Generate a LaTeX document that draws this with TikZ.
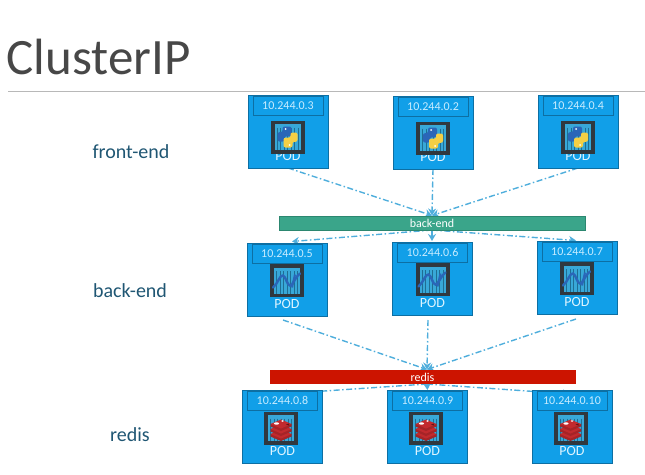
\documentclass[tikz,border=0pt]{standalone}
\usepackage{fontspec}
\setmainfont{Carlito}
\usetikzlibrary{arrows.meta,backgrounds}
\definecolor{podblue}{HTML}{119FE8}
\definecolor{podedge}{HTML}{0D6FA3}
\definecolor{iptext}{HTML}{C8ECFF}
\definecolor{linkblue}{HTML}{4FAEDC}
\definecolor{framedark}{HTML}{30383F}
\definecolor{stripe}{HTML}{38A8D8}
\definecolor{stripeline}{HTML}{1F6E93}
\definecolor{labelblue}{HTML}{1F5673}
\definecolor{pyblue}{HTML}{2A66B8}
\definecolor{pyyellow}{HTML}{F4CF45}
\definecolor{rediscol}{HTML}{C22A2E}
\definecolor{greenbar}{HTML}{3AA58A}
\definecolor{greenedge}{HTML}{2C8770}
\definecolor{redbar}{HTML}{CC1400}
\tikzset{
  podshape/.style={draw=podedge,line width=0.9pt,fill=podblue,minimum width=80pt,minimum height=73pt,anchor=north west,inner sep=0pt,outer sep=0pt},
  ipshape/.style={draw=podedge,line width=0.8pt,fill=podblue,minimum width=70pt,minimum height=19pt,text=iptext,font=\fontsize{12}{12}\selectfont,inner sep=0pt},
  podtext/.style={text=iptext!60!white,font=\fontsize{14}{14}\selectfont,inner sep=0pt},
  iconframe/.style={fill=framedark,minimum width=34pt,minimum height=33pt,inner sep=0pt},
  barshape/.style={minimum height=14pt,minimum width=306pt,inner sep=0pt,text=white,font=\fontsize{12}{12}\selectfont},
  tierlabel/.style={text=labelblue,font=\fontsize{20}{20}\selectfont,inner sep=0pt},
  link/.style={draw=linkblue,line width=1.4pt,dash pattern=on 6pt off 2.5pt on 1.5pt off 2.5pt,-{Stealth[length=7pt,width=8pt]}}
}
\newcommand{\iconbase}{%
  \fill[stripe] (-13,-13) rectangle (13,13);
  \foreach \sx in {-10.5,-7,...,11} {\draw[stripeline,line width=0.6pt] (\sx,-9.5) -- (\sx,13);}
}
\newcommand{\iconpy}{%
  \iconbase
  \foreach \rot/\col in {0/pyblue,180/pyyellow} {
    \begin{scope}[rotate=\rot]
      \fill[\col,rounded corners=2pt] (-5,-10.5) -- (4,-10.5) -- (4,-0.7) -- (-3,-0.7) -- (-3,4.5) -- (-10,4.5) -- (-10,-4.8) -- (-5,-4.8) -- cycle;
      \fill[white] (-2,-8) circle (1);
    \end{scope}
  }
}
\newcommand{\icondotnet}{%
  \iconbase
  \draw[pyblue,line width=2.4pt,line cap=round] (-14,7) .. controls (-9,3) and (-7,-6) .. (-4,-5) .. controls (-1,-4) and (0,5) .. (3,5) .. controls (6,5) and (7,-2) .. (13,-7);
  \draw[pyblue,line width=2pt] (5,7) -- (8,-6);
}
\newcommand{\iconredis}{%
  \iconbase
  \foreach \ly in {6,1,-4} {
    \fill[rediscol!85!black] (-10.5,\ly) -- (-10.5,\ly+2.5) -- (0,\ly+7) -- (10.5,\ly+2.5) -- (10.5,\ly) -- cycle;
    \fill[rediscol] (-10.5,\ly) -- (0,\ly-4.5) -- (10.5,\ly) -- (0,\ly+4.5) -- cycle;
  }
  \fill[white] (-4.5,-4.5) ellipse (2.6 and 1.2);
  \fill[white] (1.5,-7) ellipse (1.3 and 0.8);
  \fill[rediscol!50!black] (5,-3.5) -- (8,-4.5) -- (8,-2.5) -- cycle;
}
% name, x, y, address, icon macro, icon dx, icon dy
\newcommand{\podunit}[7]{%
  \node[podshape] (#1) at (#2,#3) {};
  \node[ipshape] (#1ip) at (#2+40,#3+10.5) {#4};
  \node[podtext] (#1lab) at (#2+40,#3+61) {POD};
  \node[iconframe] (#1icon) at (#2+#6,#3+#7) {};
  \begin{scope}[shift={(#1icon.center)}]#5\end{scope}
}
\begin{document}
\begin{tikzpicture}[x=1pt,y=-1pt]
\useasboundingbox (0,0) rectangle (645,474);
% title
\node[anchor=base west,inner sep=0pt,text=black!72,font=\fontsize{51}{52}\selectfont] (title) at (6.5,74) {ClusterIP};
\coordinate (ruleL) at (8,91);
\coordinate (ruleR) at (645,91);
\draw[black!28,line width=1pt] (ruleL) -- (ruleR);
% tier labels
\node[tierlabel] (t1) at (131,151.5) {front-end};
\node[tierlabel] (t2) at (130,290.5) {back-end};
\node[tierlabel] (t3) at (130,434.5) {redis};
% pods
\podunit{fa}{248}{95}{10.244.0.3}{\iconpy}{39.5}{42}
\podunit{fb}{393}{96}{10.244.0.2}{\iconpy}{40}{42}
\podunit{fc}{538}{95}{10.244.0.4}{\iconpy}{40}{42}
\podunit{ba}{247}{243}{10.244.0.5}{\icondotnet}{40}{37.5}
\podunit{bb}{392.5}{242}{10.244.0.6}{\icondotnet}{40}{37.5}
\podunit{bc}{537}{241}{10.244.0.7}{\icondotnet}{40}{37.5}
\podunit{ra}{242.5}{390}{10.244.0.8}{\iconredis}{38.5}{38}
\podunit{rb}{387.5}{390}{10.244.0.9}{\iconredis}{38.5}{38}
\podunit{rc}{532}{390}{10.244.0.10}{\iconredis}{38.5}{38}
% service bars
\node[barshape,fill=greenbar,draw=greenedge,line width=0.7pt] (svcb) at (432,223) {back-end};
\node[barshape,fill=redbar] (svcr) at (422.5,377) {redis};
% anchors for free ends
\coordinate (inb) at (432,215.5);
\coordinate (outb) at (432,230);
\coordinate (toba) at (292,241.5);
\coordinate (tobb) at (432,241);
\coordinate (tobc) at (576,240.5);
\coordinate (inr) at (427,369.5);
\coordinate (outr) at (427,384);
\coordinate (fromba) at (283,320);
\coordinate (frombb) at (428,320);
\coordinate (frombc) at (576,319);
\coordinate (tora) at (280,394);
\coordinate (torc) at (570,394);
\begin{scope}[on background layer]
  \draw[link] (fa.south) -- (inb);
  \draw[link] (fb.south) -- (inb);
  \draw[link] (fc.south) -- (inb);
  \draw[link] (outb) -- (toba);
  \draw[link] (outb) -- (tobb);
  \draw[link] (outb) -- (tobc);
  \draw[link] (fromba) -- (inr);
  \draw[link] (frombb) -- (inr);
  \draw[link] (frombc) -- (inr);
  \draw[link] (outr) -- (tora);
  \draw[link] (outr) -- (rb.north);
  \draw[link] (outr) -- (torc);
\end{scope}
\end{tikzpicture}
\end{document}
